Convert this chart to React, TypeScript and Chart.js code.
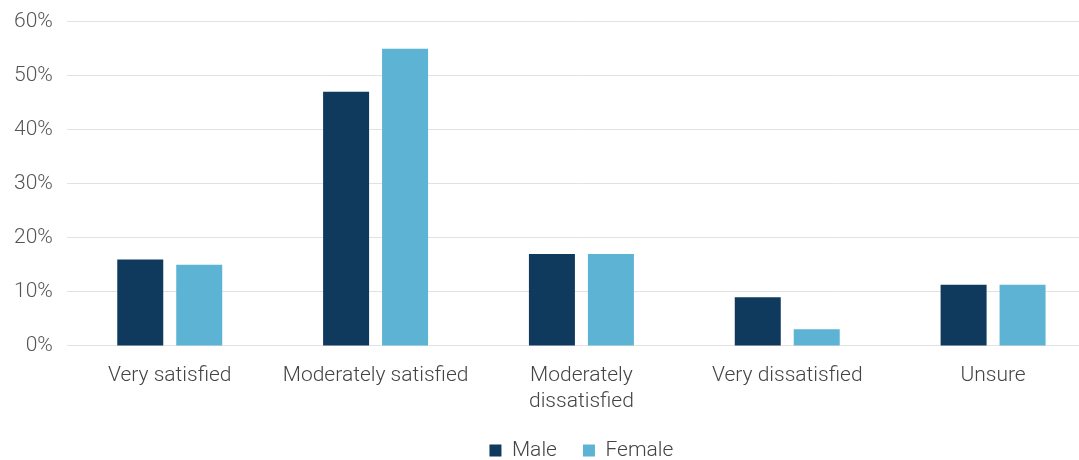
import React, { useEffect, useRef } from "react";
import { Chart, registerables } from "chart.js";

Chart.register(...registerables);

const categories: (string | string[])[] = [
  "Very satisfied",
  "Moderately satisfied",
  ["Moderately", "dissatisfied"],
  "Very dissatisfied",
  "Unsure",
];
const maleValues = [16, 47, 17, 9, 11.3];
const femaleValues = [15, 55, 17, 3.1, 11.3];
const yTicks = [0, 10, 20, 30, 40, 50, 60];

const FONT = "Roboto, 'Noto Sans', sans-serif";

export default function App() {
  const ref = useRef<HTMLCanvasElement | null>(null);
  useEffect(() => {
    if (!ref.current) return;
    const chart = new Chart(ref.current, {
      type: "bar",
      data: {
        labels: categories,
        datasets: [
          {
            label: "Male",
            data: maleValues,
            backgroundColor: "#0f3a5e",
            barPercentage: 0.78,
            categoryPercentage: 0.573,
          },
          {
            label: "Female",
            data: femaleValues,
            backgroundColor: "#5cb3d4",
            barPercentage: 0.78,
            categoryPercentage: 0.573,
          },
        ],
      },
      options: {
        animation: false,
        responsive: true,
        maintainAspectRatio: false,
        layout: { padding: { left: 0, right: 4, top: 3, bottom: 1 } },
        plugins: {
          tooltip: { enabled: false },
          legend: {
            position: "bottom",
            fullSize: false,
            labels: {
              boxWidth: 12,
              boxHeight: 12,
              padding: 26,
              color: "#444",
              font: { family: FONT, size: 21, weight: "300" as any },
            },
          },
        },
        scales: {
          x: {
            grid: { display: false, drawTicks: false },
            border: { display: false },
            afterFit: (scale: any) => {
              scale.height -= 18;
            },
            ticks: {
              color: "#444",
              padding: 17,
              maxRotation: 0,
              autoSkip: false,
              font: { family: FONT, size: 21, weight: "300" as any, lineHeight: 1.24 },
            },
          },
          y: {
            min: yTicks[0],
            max: yTicks[yTicks.length - 1],
            afterBuildTicks: (axis: any) => {
              axis.ticks = yTicks.map((v) => ({ value: v }));
            },
            grid: { color: "#e2e2e2", drawTicks: false, lineWidth: 1 },
            border: { display: false },
            ticks: {
              color: "#555",
              padding: 14,
              font: { family: FONT, size: 21, weight: "300" as any },
              callback: (v: any) => v + "%",
            },
          },
        },
      },
    });
    return () => chart.destroy();
  }, []);
  return (
    <div style={{ position: "absolute", left: 0, top: 0, width: 1079, height: 460, overflow: "hidden", background: "#fff" }}>
      <div style={{ position: "relative", top: -5, width: 1100, height: 477 }}>
        <canvas ref={ref} />
      </div>
    </div>
  );
}
